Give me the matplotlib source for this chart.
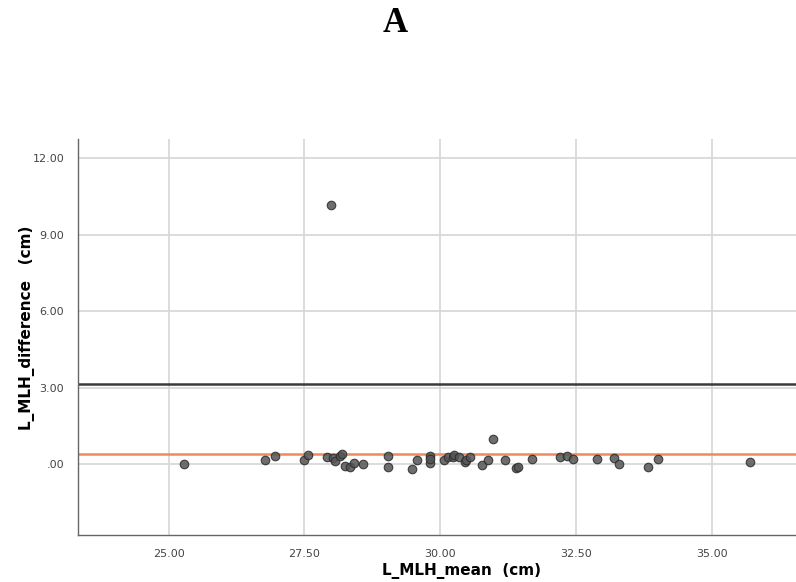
import matplotlib.pyplot as plt
import numpy as np

# Bland-Altman style data
mean_cm = [25.28, 26.78, 26.96, 27.49, 27.57, 27.92, 27.98, 28.03, 28.07, 28.16, 28.19,
           28.25, 28.33, 28.41, 28.58, 29.04, 29.04, 29.48, 29.57, 29.81, 29.82, 29.82,
           30.07, 30.15, 30.23, 30.26, 30.35, 30.45, 30.47, 30.54, 30.77, 30.87, 30.97,
           31.19, 31.40, 31.43, 31.69, 32.21, 32.33, 32.44, 32.88, 33.19, 33.29, 33.83,
           34.00, 35.71]
diff_cm = [-0.01, 0.16, 0.33, 0.18, 0.36, 0.26, 10.16, 0.25, 0.12, 0.33, 0.39,
           -0.08, -0.10, 0.05, -0.01, 0.33, -0.10, -0.20, 0.16, 0.05, 0.31, 0.20,
           0.16, 0.26, 0.26, 0.35, 0.29, 0.09, 0.16, 0.29, -0.04, 0.16, 0.97,
           0.18, -0.17, -0.13, 0.22, 0.26, 0.31, 0.20, 0.22, 0.24, -0.01, -0.10,
           0.22, 0.07]
mean_diff = 0.38
upper_loa = 3.16

xticks = [25.0, 27.5, 30.0, 32.5, 35.0]
xticklabels = ['25.00', '27.50', '30.00', '32.50', '35.00']
yticks = [0, 3, 6, 9, 12]
yticklabels = ['.00', '3.00', '6.00', '9.00', '12.00']

fig = plt.figure(figsize=(7.96, 5.82), dpi=100)
ax = fig.add_axes([78/796, 47/582, 1 - 78/796, (535-139)/582])

ax.set_xlim(23.33, 36.55)
ax.set_ylim(-2.78, 12.75)

ax.grid(True, color='#d6d6d6', linewidth=1.2, zorder=0)
ax.set_axisbelow(True)

ax.axhline(upper_loa, color='#3a3a3a', linewidth=1.8, zorder=2)
ax.axhline(mean_diff, color='#f0895c', linewidth=1.8, zorder=2)

ax.scatter(mean_cm, diff_cm, s=38, color='#555555', edgecolors='#2a2a2a',
           linewidths=0.8, alpha=0.85, zorder=3)

ax.set_xticks(xticks)
ax.set_xticklabels(xticklabels)
ax.set_yticks(yticks)
ax.set_yticklabels(yticklabels)
ax.tick_params(length=0, labelsize=8, labelcolor='#444444', pad=10)

for s in ['top', 'right']:
    ax.spines[s].set_visible(False)
for s in ['left', 'bottom']:
    ax.spines[s].set_color('#666666')
    ax.spines[s].set_linewidth(1.0)

fig.text(462/796, 1 - 571/582, 'L_MLH_mean  (cm)', ha='center', va='center',
         fontsize=11, fontweight='bold')
fig.text(27/796, 1 - 328/582, 'L_MLH_difference   (cm)', ha='center', va='center',
         rotation=90, fontsize=11, fontweight='bold')
fig.text(395/796, 1 - 23/582, 'A', ha='center', va='center', fontsize=25,
         fontweight='bold', family='Liberation Serif')

fig.savefig('out.png', dpi=100)
